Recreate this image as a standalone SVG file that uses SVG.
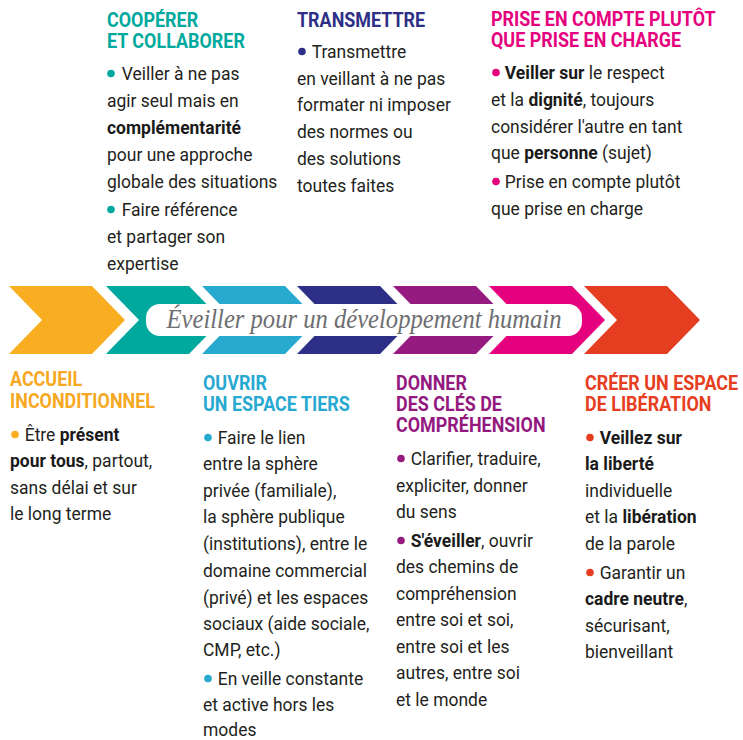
<svg xmlns="http://www.w3.org/2000/svg" width="743" height="740" viewBox="0 0 743 740">
<style>
.h{font-family:Roboto,"Liberation Sans",sans-serif;font-weight:700;font-size:19.5px}
.t{font-family:Roboto,"Liberation Sans",sans-serif;font-size:19px;fill:#231f20}
.b{font-weight:700;fill:#1a1a1a}
.pill{font-family:"Liberation Serif",serif;font-style:italic;font-size:27px;fill:#6d6e71}
</style>
<rect width="743" height="740" fill="#fff"/>
<g id="band">
<path fill="#F9AD21" d="M9 286H92L125 320L92 354H9L42 320Z"/>
<path fill="#00A99D" d="M106 286H189L222 320L189 354H106L139 320Z"/>
<path fill="#28A9CF" d="M202 286H285L318 320L285 354H202L235 320Z"/>
<path fill="#2E2F86" d="M297 286H380L413 320L380 354H297L330 320Z"/>
<path fill="#951B81" d="M393 286H476L509 320L476 354H393L426 320Z"/>
<path fill="#E5007D" d="M489 286H572L605 320L572 354H489L522 320Z"/>
<path fill="#E53D20" d="M584 286H667L700 320L667 354H584L617 320Z"/>
<rect x="146" y="304" width="436" height="32" rx="14" fill="#fff"/>
<text class="pill" x="364" y="328" text-anchor="middle" textLength="395" lengthAdjust="spacingAndGlyphs">Éveiller pour un développement humain</text>
</g>

<g id="cooperer">
<circle cx="111" cy="73.5" r="3.8" fill="#00A99D"/>
<circle cx="111" cy="209.5" r="3.8" fill="#00A99D"/>
<g transform="translate(107,0) scale(0.92,1)">
<text class="h" fill="#00A99D"><tspan x="0" y="27">COOPÉRER</tspan><tspan x="0" y="48">ET COLLABORER</tspan></text>
<text class="t">
<tspan x="16" y="80">Veiller à ne pas</tspan>
<tspan x="0" y="107">agir seul mais en</tspan>
<tspan x="0" y="134" class="b">complémentarité</tspan>
<tspan x="0" y="161">pour une approche</tspan>
<tspan x="0" y="188">globale des situations</tspan>
<tspan x="16" y="216">Faire référence</tspan>
<tspan x="0" y="243">et partager son</tspan>
<tspan x="0" y="270">expertise</tspan>
</text>
</g>
</g>

<g id="transmettre">
<circle cx="302" cy="51.5" r="3.8" fill="#2E2F86"/>
<g transform="translate(297,0) scale(0.92,1)">
<text class="h" fill="#2E2F86"><tspan x="0" y="27">TRANSMETTRE</tspan></text>
<text class="t">
<tspan x="16" y="58">Transmettre</tspan>
<tspan x="0" y="85">en veillant à ne pas</tspan>
<tspan x="0" y="111">formater ni imposer</tspan>
<tspan x="0" y="138">des normes ou</tspan>
<tspan x="0" y="165">des solutions</tspan>
<tspan x="0" y="192">toutes faites</tspan>
</text>
</g>
</g>

<g id="prise-en-compte">
<circle cx="496" cy="72.5" r="3.8" fill="#E5007D"/>
<circle cx="496" cy="181.5" r="3.8" fill="#E5007D"/>
<g transform="translate(491,0) scale(0.92,1)">
<text class="h" fill="#E5007D"><tspan x="0" y="26">PRISE EN COMPTE PLUTÔT</tspan><tspan x="0" y="47.5">QUE PRISE EN CHARGE</tspan></text>
<text class="t">
<tspan x="15" y="79"><tspan class="b">Veiller sur</tspan> le respect</tspan>
<tspan x="0" y="106">et la <tspan class="b">dignité</tspan>, toujours</tspan>
<tspan x="0" y="133">considérer l'autre en tant</tspan>
<tspan x="0" y="159">que <tspan class="b">personne</tspan> (sujet)</tspan>
<tspan x="15" y="188">Prise en compte plutôt</tspan>
<tspan x="0" y="215">que prise en charge</tspan>
</text>
</g>
</g>

<g id="accueil">
<circle cx="15" cy="434.5" r="3.8" fill="#F9AD21"/>
<g transform="translate(10,0) scale(0.92,1)">
<text class="h" fill="#F7A823"><tspan x="0" y="386">ACCUEIL</tspan><tspan x="0" y="408">INCONDITIONNEL</tspan></text>
<text class="t">
<tspan x="16" y="441">Être <tspan class="b">présent</tspan></tspan>
<tspan x="0" y="467"><tspan class="b">pour tous</tspan>, partout,</tspan>
<tspan x="0" y="494">sans délai et sur</tspan>
<tspan x="0" y="520">le long terme</tspan>
</text>
</g>
</g>

<g id="ouvrir">
<circle cx="208" cy="437.5" r="3.8" fill="#28A9CF"/>
<circle cx="208" cy="678.5" r="3.8" fill="#28A9CF"/>
<g transform="translate(203,0) scale(0.92,1)">
<text class="h" fill="#27A9D1"><tspan x="0" y="390">OUVRIR</tspan><tspan x="0" y="411">UN ESPACE TIERS</tspan></text>
<text class="t">
<tspan x="16" y="444">Faire le lien</tspan>
<tspan x="0" y="470">entre la sphère</tspan>
<tspan x="0" y="497">privée (familiale),</tspan>
<tspan x="0" y="523">la sphère publique</tspan>
<tspan x="0" y="550">(institutions), entre le</tspan>
<tspan x="0" y="577">domaine commercial</tspan>
<tspan x="0" y="604">(privé) et les espaces</tspan>
<tspan x="0" y="630">sociaux (aide sociale,</tspan>
<tspan x="0" y="656">CMP, etc.)</tspan>
<tspan x="16" y="685">En veille constante</tspan>
<tspan x="0" y="711">et active hors les</tspan>
<tspan x="0" y="736">modes</tspan>
</text>
</g>
</g>

<g id="donner">
<circle cx="401" cy="458.5" r="3.8" fill="#951B81"/>
<circle cx="401" cy="540.5" r="3.8" fill="#951B81"/>
<g transform="translate(396,0) scale(0.92,1)">
<text class="h" fill="#93197F"><tspan x="0" y="390">DONNER</tspan><tspan x="0" y="411">DES CLÉS DE</tspan><tspan x="0" y="432">COMPRÉHENSION</tspan></text>
<text class="t">
<tspan x="16" y="465">Clarifier, traduire,</tspan>
<tspan x="0" y="492">expliciter, donner</tspan>
<tspan x="0" y="518">du sens</tspan>
<tspan x="16" y="547"><tspan class="b">S'éveiller</tspan>, ouvrir</tspan>
<tspan x="0" y="573">des chemins de</tspan>
<tspan x="0" y="600">compréhension</tspan>
<tspan x="0" y="626">entre soi et soi,</tspan>
<tspan x="0" y="653">entre soi et les</tspan>
<tspan x="0" y="679">autres, entre soi</tspan>
<tspan x="0" y="706">et le monde</tspan>
</text>
</g>
</g>

<g id="creer">
<circle cx="590" cy="437.5" r="3.8" fill="#E53D20"/>
<circle cx="590" cy="572.5" r="3.8" fill="#E53D20"/>
<g transform="translate(585,0) scale(0.92,1)">
<text class="h" fill="#E63E1E"><tspan x="0" y="390">CRÉER UN ESPACE</tspan><tspan x="0" y="411">DE LIBÉRATION</tspan></text>
<text class="t">
<tspan x="16" y="444" class="b">Veillez sur</tspan>
<tspan x="0" y="470" class="b">la liberté</tspan>
<tspan x="0" y="497">individuelle</tspan>
<tspan x="0" y="523">et la <tspan class="b">libération</tspan></tspan>
<tspan x="0" y="550">de la parole</tspan>
<tspan x="16" y="579">Garantir un</tspan>
<tspan x="0" y="605"><tspan class="b">cadre neutre</tspan>,</tspan>
<tspan x="0" y="632">sécurisant,</tspan>
<tspan x="0" y="658">bienveillant</tspan>
</text>
</g>
</g>
</svg>
